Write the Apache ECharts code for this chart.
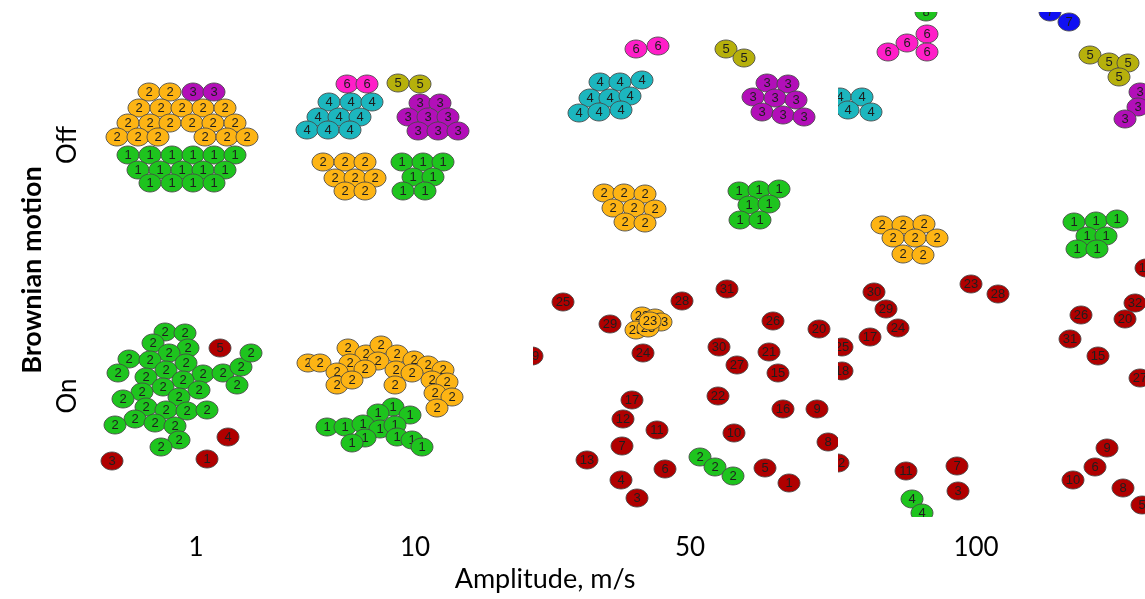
<!DOCTYPE html>
<html>
<head>
<meta charset="utf-8">
<script src="https://cdn.jsdelivr.net/npm/echarts@6/dist/echarts.min.js"></script>
<style>html,body{margin:0;padding:0;background:#fff;}#c{width:1145px;height:599px;}</style>
</head>
<body>
<div id="c"></div>
<script>
// ---- axis texts ----
const xTickLabels = ['1', '10', '50', '100'];
const yTickLabels = ['Off', 'On'];
const xName = 'Amplitude, m/s';
const yName = 'Brownian motion';

// ---- particle positions [x, y] (cluster id given in the series list) or [x, y, id] ----
// Amplitude 1
const a1OffOrange = [[149,92],[170,92],[139,108],[161,108],[182,108],[203,108],[225,108],[128,123],[150,123],[170,123],[192,123],[213,123],[235,123],[117,137],[138,137],[158,137],[205,137],[227,137],[247,137]];
const a1OffPurple = [[193,92],[214,92]];
const a1OffGreen = [[128,155],[150,155],[172,155],[193,155],[214,155],[235,155],[138,170],[160,170],[182,170],[203,170],[225,170],[150,183],[172,183],[193,183],[214,183]];
const a1OnGreen = [[165,332],[185,333],[153,343],[188,348],[169,353],[129,359],[150,360],[186,363],[166,370],[118,373],[146,377],[203,374],[183,380],[223,373],[241,367],[251,353],[237,385],[163,387],[142,392],[199,390],[123,399],[179,397],[146,407],[166,410],[187,411],[207,410],[135,419],[155,423],[175,426],[115,425],[179,440],[161,447]];
const a1OnRed = [[220,348,5],[228,437,4],[207,459,1],[112,461,3]];
// Amplitude 10
const a10OffPink = [[347,84],[367,84]];
const a10OffOlive = [[398,83],[420,84]];
const a10OffCyan = [[329,102],[351,102],[372,102],[318,117],[339,117],[360,117],[307,130],[328,130],[350,130]];
const a10OffPurple = [[420,103],[440,103],[408,117],[428,117],[448,117],[418,131],[438,131],[458,131]];
const a10OffOrange = [[323,162],[345,162],[365,162],[335,178],[355,178],[375,178],[345,191],[365,191]];
const a10OffGreen = [[402,162],[423,162],[443,162],[413,177],[433,177],[403,191],[425,191]];
const a10OnOrange = [[308,363],[320,363],[348,348],[366,354],[381,345],[397,354],[378,361],[350,363],[337,372],[365,369],[414,360],[428,365],[443,370],[396,370],[412,373],[337,385],[352,380],[395,385],[432,380],[447,382],[435,393],[452,397],[437,408]];
const a10OnGreen = [[393,407],[378,413],[410,415],[327,427],[345,427],[363,424],[380,429],[395,425],[365,438],[397,437],[352,443],[412,440],[422,447]];
// Amplitude 50
const a50OffPink = [[636,49],[658,46]];
const a50OffOlive = [[726,49],[744,58]];
const a50OffCyan = [[600,82],[620,82],[642,80],[590,98],[610,98],[630,96],[579,113],[599,112],[621,110]];
const a50OffPurple = [[767,83],[788,84],[753,97],[775,98],[796,100],[762,112],[783,115],[804,117]];
const a50OffOrange = [[604,193],[624,193],[645,194],[613,208],[634,208],[655,209],[625,222],[645,223]];
const a50OffGreen = [[739,191],[759,190],[779,189],[749,205],[769,204],[740,220],[760,220]];
const a50OnRed = [[563,302,25],[610,324,29],[682,301,28],[727,289,31],[773,321,26],[819,329,20],[532,356,19],[643,353,24],[719,347,30],[769,352,21],[737,365,27],[778,373,15],[718,396,22],[632,400,17],[623,419,12],[783,409,16],[817,409,9],[657,430,11],[734,433,10],[828,442,8],[622,446,7],[587,460,13],[665,469,6],[765,468,5],[621,480,4],[789,483,1],[637,498,3]];
const a50OnOrange = [[642,316],[655,318],[661,322],[636,330],[648,328],[650,321]];
const a50OnGreen = [[700,457],[715,467],[733,476]];
// Amplitude 100
const a100OffGreen8 = [[926,12]];
const a100OffPink = [[888,52],[907,43],[927,34],[927,52]];
const a100OffCyan = [[840,97],[862,97],[848,110],[871,112]];
const a100OffBlue = [[1050,12],[1069,22]];
const a100OffOlive = [[1090,55],[1109,62],[1128,63],[1119,77]];
const a100OffPurple = [[1140,92],[1138,107],[1125,119]];
const a100OffOrange = [[882,225],[903,225],[924,224],[893,238],[915,238],[937,238],[903,254],[923,255]];
const a100OffGreen = [[1074,222],[1096,221],[1117,219],[1087,236],[1106,236],[1077,249],[1097,249]];
const a100OnRed = [[874,292,30],[886,309,29],[898,328,24],[870,337,17],[842,347,25],[842,371,18],[971,284,23],[998,294,28],[1081,315,26],[1125,319,20],[1135,303,32],[1070,339,31],[1098,356,15],[1140,378,27],[1107,448,9],[1095,467,6],[1073,480,10],[1123,488,8],[1142,505,5],[906,471,11],[957,466,7],[958,491,3],[838,463,12],[1146,268,14]];
const a100OnGreen = [[912,499],[922,513]];

// ---- layout / style ----
const xTickPos = [196, 415, 690, 976];
const yTickPos = [145, 396];
const COL = {
  green: '#1ec41e', orange: '#fdb414', purple: '#b20fb8', cyan: '#1cb6be',
  pink: '#ff1ec8', olive: '#b6b00c', red: '#b00000', blue: '#1010f2'
};
// [points, cluster id, colour, grid index]
const seriesDefs = [
  [a1OffOrange, 2, 'orange', 0], [a1OffPurple, 3, 'purple', 0], [a1OffGreen, 1, 'green', 0],
  [a1OnGreen, 2, 'green', 0], [a1OnRed, null, 'red', 0],
  [a10OffPink, 6, 'pink', 0], [a10OffOlive, 5, 'olive', 0], [a10OffCyan, 4, 'cyan', 0],
  [a10OffPurple, 3, 'purple', 0], [a10OffOrange, 2, 'orange', 0], [a10OffGreen, 1, 'green', 0],
  [a10OnOrange, 2, 'orange', 0], [a10OnGreen, 1, 'green', 0],
  [a50OffPink, 6, 'pink', 1], [a50OffOlive, 5, 'olive', 1], [a50OffCyan, 4, 'cyan', 1],
  [a50OffPurple, 3, 'purple', 1], [a50OffOrange, 2, 'orange', 1], [a50OffGreen, 1, 'green', 1],
  [a50OnRed, null, 'red', 1], [a50OnOrange, 23, 'orange', 1], [a50OnGreen, 2, 'green', 1],
  [a100OffGreen8, 8, 'green', 2], [a100OffPink, 6, 'pink', 2], [a100OffCyan, 4, 'cyan', 2],
  [a100OffBlue, 7, 'blue', 2], [a100OffOlive, 5, 'olive', 2], [a100OffPurple, 3, 'purple', 2],
  [a100OffOrange, 2, 'orange', 2], [a100OffGreen, 1, 'green', 2],
  [a100OnRed, null, 'red', 2], [a100OnGreen, 4, 'green', 2]
];

const FONT = 'Lato, "Open Sans", sans-serif';
const RX = 11, RY = 9;

const series = seriesDefs.map(([pts, id, col, g]) => ({
  type: 'custom',
  xAxisIndex: g, yAxisIndex: g,
  clip: true,
  silent: true,
  data: pts.map(p => [p[0], p[1], p.length > 2 ? p[2] : id]),
  renderItem: (params, api) => {
    const c = api.coord([api.value(0), api.value(1)]);
    return {
      type: 'group',
      children: [
        { type: 'ellipse', shape: { cx: c[0], cy: c[1], rx: RX, ry: RY },
          style: { fill: COL[col], stroke: 'rgba(70,70,70,0.85)', lineWidth: 1 } },
        { type: 'text', style: { x: c[0], y: c[1] + 0.5, text: String(api.value(2)), align: 'center',
          verticalAlign: 'middle', fill: '#1e1e1e', font: '13px "Liberation Sans", Arial, sans-serif' } }
      ]
    };
  }
}));

const hidden = { show: false };
const option = {
  animation: false,
  backgroundColor: '#ffffff',
  grid: [
    { left: 88, top: 0, right: 0, height: 530 },
    { left: 533, top: 20, width: 305, height: 495 },
    { left: 838, top: 12, width: 307, height: 505 }
  ],
  xAxis: [
    {
      type: 'value', gridIndex: 0, min: 88, max: 1145,
      axisLine: hidden, axisTick: hidden, splitLine: hidden,
      axisLabel: {
        customValues: xTickPos, margin: 5,
        formatter: v => xTickLabels[xTickPos.indexOf(v)] || '',
        color: '#000', fontSize: 26, fontFamily: FONT
      },
      name: xName, nameLocation: 'middle', nameGap: 34,
      nameTextStyle: { color: '#000', fontSize: 27, fontFamily: FONT, padding: [0, 143, 0, 0] }
    },
    { type: 'value', gridIndex: 1, min: 533, max: 838, show: false },
    { type: 'value', gridIndex: 2, min: 838, max: 1145, show: false }
  ],
  yAxis: [
    {
      type: 'value', gridIndex: 0, min: 0, max: 530, inverse: true,
      axisLine: hidden, axisTick: hidden, splitLine: hidden,
      axisLabel: {
        customValues: yTickPos, margin: 7, rotate: 90,
        formatter: v => yTickLabels[yTickPos.indexOf(v)] || '',
        color: '#000', fontSize: 26, fontFamily: FONT
      },
      name: yName, nameLocation: 'middle', nameGap: 42,
      nameTextStyle: { color: '#000', fontSize: 27, fontWeight: 'bold', fontFamily: FONT, padding: [0, 10, 0, 0] }
    },
    { type: 'value', gridIndex: 1, min: 20, max: 515, inverse: true, show: false },
    { type: 'value', gridIndex: 2, min: 12, max: 517, inverse: true, show: false }
  ],
  series
};

const chart = echarts.init(document.getElementById('c'), null, { renderer: 'canvas' });
chart.setOption(option);
</script>
</body>
</html>
